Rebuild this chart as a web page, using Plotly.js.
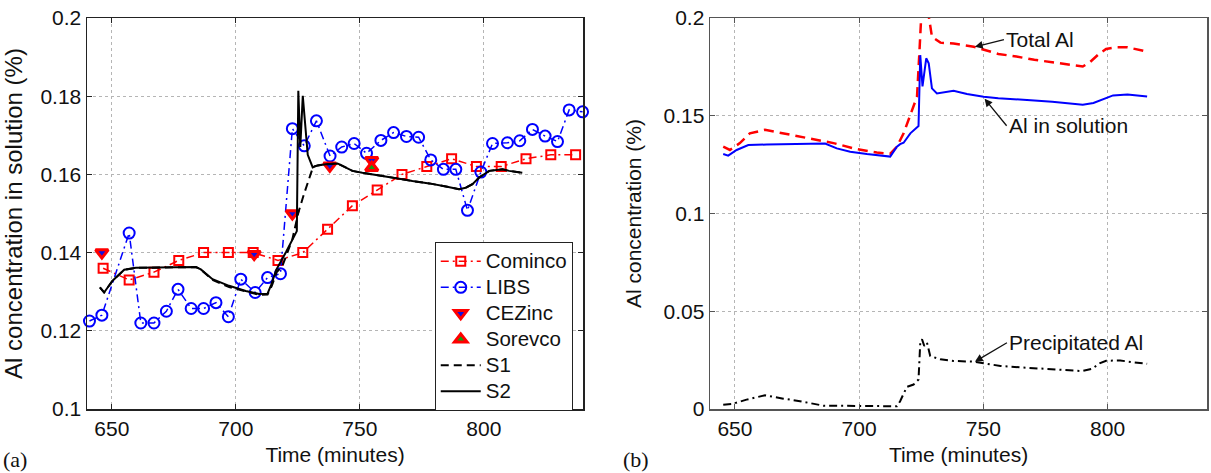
<!DOCTYPE html>
<html>
<head>
<meta charset="utf-8">
<script src="https://cdn.plot.ly/plotly-3.0.1.min.js"></script>
<style>
  html, body { margin: 0; padding: 0; background: #fff; }
  #chart { width: 1211px; height: 473px; }
</style>
</head>
<body>
<div id="chart"></div>
<script>
// ---- Panel (a): measured and simulated Al in solution ----
const cominco_t = [646.5, 657, 667, 677, 687, 697, 707, 717, 727, 737, 747, 757, 767, 777, 787, 797, 807, 817, 827, 837];
const cominco_y = [0.136, 0.133, 0.135, 0.138, 0.140, 0.140, 0.140, 0.138, 0.140, 0.146, 0.152, 0.156, 0.160, 0.162, 0.164, 0.162, 0.162, 0.164, 0.165, 0.165];

const libs_t = [641, 646, 657, 661.7, 667, 672, 676.7, 682, 687, 692, 697, 702, 707.8, 712.8, 718, 722.8, 727.6, 732.5, 738, 742.7, 747.7, 752.7, 758.5, 763.6, 768.8, 773.7, 778.6, 783.7, 788.7, 793.4, 798.8, 803.5, 809.5, 814.5, 819.6, 824.7, 829.7, 834.4, 839.8];
const libs_y = [0.1225, 0.124, 0.145, 0.122, 0.122, 0.125, 0.1306, 0.1257, 0.1257, 0.1272, 0.1236, 0.1332, 0.1298, 0.1336, 0.1346, 0.1717, 0.1673, 0.1737, 0.1647, 0.167, 0.1679, 0.1654, 0.1687, 0.1707, 0.1697, 0.1695, 0.1637, 0.1613, 0.1613, 0.1508, 0.1606, 0.1679, 0.1681, 0.1686, 0.1715, 0.1698, 0.1684, 0.1765, 0.176];

const cezinc_t = [646, 707.4, 722.8, 737.9, 754.8];
const cezinc_y = [0.140, 0.1396, 0.150, 0.1622, 0.1636];

const sorevco_t = [754.8];
const sorevco_y = [0.1617];

const s1_t = [645.2, 646.9, 650.3, 655, 659.7, 670.4, 683.9, 685.9, 690.6, 697.3, 704, 709.4, 712.8, 714.5, 716.5, 718.8, 722.8, 725.2, 727.5, 729.9, 731.2, 733, 736.3, 741, 743, 747, 751, 757.8, 765.9, 771.2, 778, 784.7, 790, 792.7, 795.4, 798.1, 802.2, 807.5, 810.2, 815.5];
const s1_y = [0.1311, 0.1298, 0.1328, 0.1356, 0.1361, 0.1362, 0.1363, 0.1357, 0.1330, 0.1312, 0.1300, 0.1292, 0.1293, 0.1315, 0.1350, 0.1366, 0.1434, 0.1502, 0.1550, 0.1596, 0.1620, 0.1623, 0.1626, 0.1628, 0.1622, 0.1609, 0.1604, 0.1598, 0.1589, 0.1583, 0.1577, 0.1569, 0.1562, 0.1566, 0.1575, 0.1592, 0.1609, 0.1613, 0.1609, 0.1604];

const s2_t = [645.2, 646.9, 650.3, 655, 659.7, 670.4, 683.9, 685.9, 690.6, 697.3, 704, 709.4, 712.8, 714.3, 716.3, 720.3, 723.9, 724.6, 725.2, 726.0, 727.0, 728.0, 729.0, 731.0, 733, 736.3, 741, 743, 747, 751, 757.8, 765.9, 771.2, 778, 784.7, 790, 792.7, 795.4, 798.1, 802.2, 807.5, 810.2, 815.5];
const s2_y = [0.1311, 0.1298, 0.1328, 0.1356, 0.1361, 0.1362, 0.1363, 0.1357, 0.1332, 0.1315, 0.1302, 0.1294, 0.1295, 0.1318, 0.1356, 0.1402, 0.1450, 0.1455, 0.1814, 0.1670, 0.1801, 0.1720, 0.1650, 0.1618, 0.1623, 0.1626, 0.1628, 0.1622, 0.1609, 0.1604, 0.1598, 0.1589, 0.1583, 0.1577, 0.1569, 0.1562, 0.1566, 0.1575, 0.1592, 0.1609, 0.1613, 0.1609, 0.1604];

// ---- Panel (b): total, dissolved and precipitated Al ----
const total_t = [645.3, 648, 652, 656, 662.1, 669.5, 676.2, 682.9, 689.7, 699.1, 707.1, 712.5, 715.2, 717.9, 721.2, 723.3, 724.3, 725.0, 725.6, 726.3, 727.2, 728.0, 729.3, 732.7, 738, 746.1, 756, 763.3, 770.5, 777.7, 784.9, 790, 792.9, 796.5, 799.4, 803.7, 808, 812.3, 815.9];
const total_y = [0.1342, 0.1325, 0.136, 0.141, 0.1428, 0.141, 0.1393, 0.138, 0.136, 0.1329, 0.1312, 0.1305, 0.1342, 0.141, 0.153, 0.1598, 0.1836, 0.205, 0.216, 0.203, 0.214, 0.201, 0.1904, 0.1874, 0.1869, 0.1853, 0.1816, 0.1803, 0.1786, 0.1774, 0.1762, 0.1752, 0.1774, 0.1816, 0.1842, 0.185, 0.185, 0.1837, 0.1828];

const sol_t = [645.3, 647.3, 650.7, 655.4, 662.8, 676.2, 686.3, 691, 696.4, 703.1, 712.5, 715.2, 716.5, 717.9, 720.6, 723.9, 724.6, 725.5, 727, 728, 729.3, 731.3, 738, 743.4, 750.1, 756, 763.3, 770.5, 777.7, 784.9, 790, 794.3, 797.9, 802.2, 808, 812.3, 815.9];
const sol_y = [0.1304, 0.1296, 0.1325, 0.135, 0.1353, 0.1355, 0.1358, 0.1333, 0.1316, 0.1304, 0.1291, 0.1342, 0.1355, 0.1362, 0.141, 0.1447, 0.181, 0.165, 0.1794, 0.1768, 0.164, 0.1614, 0.1628, 0.1611, 0.1597, 0.159, 0.1585, 0.1578, 0.1571, 0.1561, 0.1556, 0.1565, 0.1582, 0.1604, 0.1609, 0.1604, 0.1599];

const prec_t = [645.3, 649.3, 654.7, 662.1, 669.5, 676.2, 685.6, 693.7, 700.4, 708.5, 715.2, 716.5, 719.2, 721.9, 723.9, 724.6, 725.3, 726.2, 727.3, 728.6, 732.7, 738, 746.1, 750.1, 756.9, 764.9, 773, 781, 789.8, 793.8, 797, 799.4, 805.1, 810.9, 815.9];
const prec_y = [0.0022, 0.0027, 0.0048, 0.007, 0.0053, 0.004, 0.0017, 0.0017, 0.0014, 0.0014, 0.0014, 0.004, 0.0113, 0.0125, 0.0151, 0.034, 0.0357, 0.0323, 0.034, 0.0271, 0.0254, 0.0246, 0.0242, 0.0234, 0.022, 0.0213, 0.0206, 0.0199, 0.0194, 0.0206, 0.0235, 0.0247, 0.0248, 0.0238, 0.0231];

// ---- tick labels ----
const xTicks = [650, 700, 750, 800];
const xTickText = ['650', '700', '750', '800'];
const yTicksA = [0.1, 0.12, 0.14, 0.16, 0.18, 0.2];
const yTickTextA = ['0.1', '0.12', '0.14', '0.16', '0.18', '0.2'];
const yTicksB = [0, 0.05, 0.1, 0.15, 0.2];
const yTickTextB = ['0', '0.05', '0.1', '0.15', '0.2'];

const FONT = 'Liberation Sans, Arial, Helvetica, sans-serif';
const FS = 21;
const DASHDOT = '8px,4px,2px,4px';

// legend rows are packed tighter than the label size would give by default
const legendName = s => '<span style="font-size:20.5px">' + s + '</span>';

const traces = [
  { name: legendName('Cominco'), x: cominco_t, y: cominco_y, xaxis: 'x', yaxis: 'y', mode: 'lines+markers',
    line: { color: '#ff0000', width: 1.5, dash: DASHDOT },
    marker: { symbol: 'square-open', size: 9, color: '#ff0000', line: { width: 2, color: '#ff0000' } } },
  { name: legendName('LIBS'), x: libs_t, y: libs_y, xaxis: 'x', yaxis: 'y', mode: 'lines+markers', cliponaxis: false,
    line: { color: '#0000ff', width: 1.5, dash: DASHDOT },
    marker: { symbol: 'circle-open', size: 11, color: '#0000ff', line: { width: 2, color: '#0000ff' } } },
  { name: legendName('CEZinc'), x: cezinc_t, y: cezinc_y, xaxis: 'x', yaxis: 'y', mode: 'markers',
    marker: { symbol: 'triangle-down', size: 11, color: '#1010e0', line: { width: 3, color: '#ff0000' } } },
  { name: legendName('Sorevco'), x: sorevco_t, y: sorevco_y, xaxis: 'x', yaxis: 'y', mode: 'markers',
    marker: { symbol: 'triangle-up', size: 11, color: '#10a010', line: { width: 3, color: '#ff0000' } } },
  { name: legendName('S1'), x: s1_t, y: s1_y, xaxis: 'x', yaxis: 'y', mode: 'lines',
    line: { color: '#000', width: 2, dash: '8px,5px' } },
  { name: legendName('S2'), x: s2_t, y: s2_y, xaxis: 'x', yaxis: 'y', mode: 'lines',
    line: { color: '#000', width: 2 } },
  { name: 'Total Al', x: total_t, y: total_y, xaxis: 'x2', yaxis: 'y2', mode: 'lines', showlegend: false,
    line: { color: '#ff0000', width: 2.5, dash: '10px,6px' } },
  { name: 'Al in solution', x: sol_t, y: sol_y, xaxis: 'x2', yaxis: 'y2', mode: 'lines', showlegend: false,
    line: { color: '#0000ff', width: 2 } },
  { name: 'Precipitated Al', x: prec_t, y: prec_y, xaxis: 'x2', yaxis: 'y2', mode: 'lines', showlegend: false,
    line: { color: '#000', width: 2, dash: DASHDOT } }
];

function xAxis(domain, anchor, lineColor) {
  return {
    domain: domain, anchor: anchor, range: [640, 840],
    tickmode: 'array', tickvals: xTicks, ticktext: xTickText,
    ticks: 'inside', ticklen: 5, tickcolor: lineColor, mirror: 'ticks',
    showline: true, linecolor: lineColor, linewidth: 1.5,
    showgrid: true, gridcolor: '#b5b5b5', griddash: 'dot', gridwidth: 1,
    zeroline: false, automargin: false,
    tickfont: { family: FONT, size: FS, color: '#111' },
    title: { text: 'Time (minutes)', font: { family: FONT, size: FS, color: '#111' }, standoff: 8 }
  };
}
function yAxis(range, vals, text, anchor, lineColor, title, titleSize, standoff) {
  return {
    domain: [0, 1], anchor: anchor, range: range,
    tickmode: 'array', tickvals: vals, ticktext: text,
    ticks: 'inside', ticklen: 5, tickcolor: lineColor, mirror: 'ticks',
    showline: true, linecolor: lineColor, linewidth: 1.5,
    showgrid: true, gridcolor: '#b5b5b5', griddash: 'dot', gridwidth: 1,
    zeroline: false, automargin: false,
    tickfont: { family: FONT, size: FS, color: '#111' },
    title: { text: title, font: { family: FONT, size: titleSize, color: '#111' }, standoff: standoff }
  };
}

const arrowStyle = { showarrow: true, arrowhead: 2, arrowsize: 1.2, arrowwidth: 1.3, arrowcolor: '#111',
  axref: 'pixel', ayref: 'pixel', xanchor: 'left', yanchor: 'middle',
  font: { family: FONT, size: FS, color: '#111' } };

const layout = {
  width: 1211, height: 473,
  margin: { l: 87, r: 4, t: 18, b: 64, pad: 0 },
  paper_bgcolor: '#fff', plot_bgcolor: '#fff',
  font: { family: FONT, size: FS, color: '#111' },
  xaxis: xAxis([0, 0.4429], 'y', '#222'),
  yaxis: yAxis([0.1, 0.2], yTicksA, yTickTextA, 'x', '#222', 'Al concentration in solution (%)', 24, 11),
  xaxis2: xAxis([0.5563, 1], 'y2', '#555'),
  yaxis2: yAxis([0, 0.2], yTicksB, yTickTextB, 'x2', '#555', 'Al concentration (%)', 21, 16),
  showlegend: true,
  legend: {
    x: 0.4337, xanchor: 'right', y: 0.4263, yanchor: 'top',
    bgcolor: '#fff', bordercolor: '#222', borderwidth: 1,
    font: { family: FONT, size: 17.7, color: '#111' },
    tracegroupgap: 0, itemwidth: 40
  },
  annotations: [
    Object.assign({ text: 'Total Al', x: 746.6, y: 0.1853, xref: 'x2', yref: 'y2', ax: 29, ay: -7 }, arrowStyle),
    Object.assign({ text: 'Al in solution', x: 750.5, y: 0.1587, xref: 'x2', yref: 'y2', ax: 22, ay: 27 }, arrowStyle),
    Object.assign({ text: 'Precipitated Al', x: 746.6, y: 0.0242, xref: 'x2', yref: 'y2', ax: 32, ay: -19 }, arrowStyle),
    { text: '(a)', xref: 'paper', yref: 'paper', x: -0.0768, y: -0.128, xanchor: 'left', yanchor: 'middle',
      showarrow: false, font: { family: 'Liberation Serif, Times New Roman, serif', size: 22, color: '#111' } },
    { text: '(b)', xref: 'paper', yref: 'paper', x: 0.4768, y: -0.128, xanchor: 'left', yanchor: 'middle',
      showarrow: false, font: { family: 'Liberation Serif, Times New Roman, serif', size: 22, color: '#111' } }
  ]
};

Plotly.newPlot('chart', traces, layout, { displayModeBar: false, staticPlot: true });
</script>
</body>
</html>
